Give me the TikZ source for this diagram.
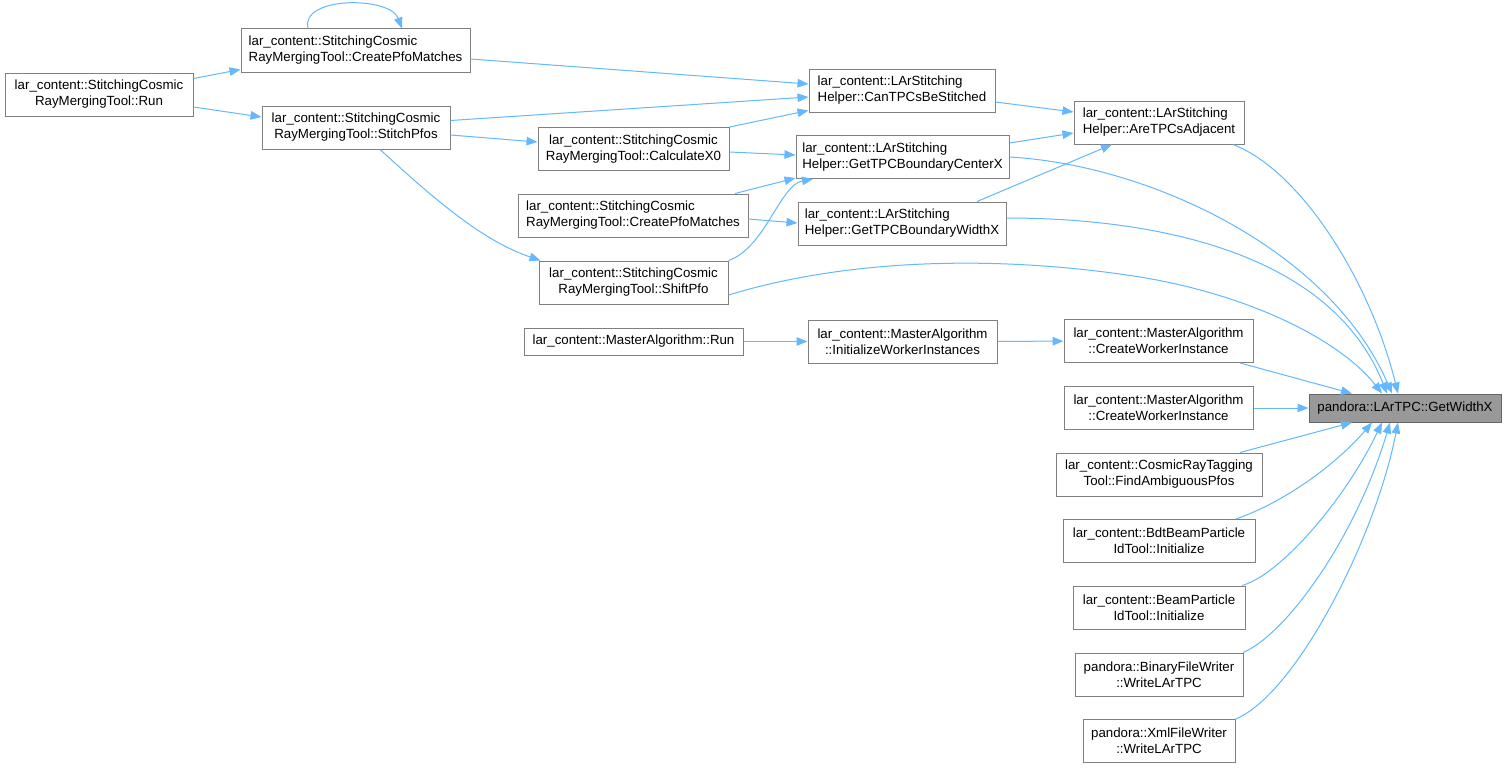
\documentclass[tikz,border=0pt]{standalone}
\usepackage{fontspec}
\setmainfont{Liberation Sans}
\usetikzlibrary{arrows.meta}
\definecolor{edgec}{HTML}{63B8FF}
\definecolor{boxc}{HTML}{808080}
\definecolor{mainfill}{HTML}{999999}
\definecolor{mainline}{HTML}{666666}
\begin{document}
\begin{tikzpicture}[x=1pt,y=-1pt,
  font=\fontsize{13.3}{16}\selectfont,
  box/.style={draw=boxc, fill=white, line width=1pt, inner sep=0pt, align=center, minimum height=43pt},
  lbox/.style={box, align=left},
  conn/.style={draw=edgec, line width=1pt, -{Triangle[length=11pt,width=8.5pt]}, edgec}]
\useasboundingbox (0,0) rectangle (1506,768);
\fill[white] (0,0) rectangle (1506,768);

% nodes
\node[box, minimum width=188pt] (run) at (99,94.5) {lar\_content::StitchingCosmic\\RayMergingTool::Run};
\node[lbox, minimum width=229pt] (cpm1) at (355.5,50.5) {lar\_content::StitchingCosmic\\RayMergingTool::CreatePfoMatches};
\node[box, minimum width=188pt] (stitch) at (356,127.5) {lar\_content::StitchingCosmic\\RayMergingTool::StitchPfos};
\node[lbox, minimum width=186pt] (can) at (902,90.5) {lar\_content::LArStitching\\Helper::CanTPCsBeStitched};
\node[box, minimum width=191pt] (calc) at (633.5,149) {lar\_content::StitchingCosmic\\RayMergingTool::CalculateX0};
\node[lbox, minimum width=213pt] (center) at (902.5,157) {lar\_content::LArStitching\\Helper::GetTPCBoundaryCenterX};
\node[lbox, minimum width=230pt] (cpm2) at (633,215.5) {lar\_content::StitchingCosmic\\RayMergingTool::CreatePfoMatches};
\node[lbox, minimum width=208pt] (width) at (902,223.5) {lar\_content::LArStitching\\Helper::GetTPCBoundaryWidthX};
\node[box, minimum width=189pt] (shift) at (633.5,282.5) {lar\_content::StitchingCosmic\\RayMergingTool::ShiftPfo};
\node[lbox, minimum width=170pt] (adj) at (1159,122.5) {lar\_content::LArStitching\\Helper::AreTPCsAdjacent};
\node[box, minimum width=219pt, minimum height=27pt] (mrun) at (633.5,341.5) {lar\_content::MasterAlgorithm::Run};
\node[box, minimum width=189pt] (init) at (902.5,341.5) {lar\_content::MasterAlgorithm\\::InitializeWorkerInstances};
\node[box, minimum width=189pt] (cwi1) at (1158.5,341) {lar\_content::MasterAlgorithm\\::CreateWorkerInstance};
\node[box, minimum width=189pt] (cwi2) at (1158.5,408) {lar\_content::MasterAlgorithm\\::CreateWorkerInstance};
\node[box, minimum width=192pt, minimum height=28pt, fill=mainfill, draw=mainline] (gwx) at (1405,408) {pandora::LArTPC::GetWidthX};
\node[box, minimum width=206pt] (find) at (1159,474.5) {lar\_content::CosmicRayTagging\\Tool::FindAmbiguousPfos};
\node[box, minimum width=192pt] (bdt) at (1159,541) {lar\_content::BdtBeamParticle\\IdTool::Initialize};
\node[box, minimum width=172pt] (beam) at (1159,607.5) {lar\_content::BeamParticle\\IdTool::Initialize};
\node[box, minimum width=168pt] (bin) at (1159,674.5) {pandora::BinaryFileWriter\\::WriteLArTPC};
\node[box, minimum width=152pt] (xml) at (1159,741) {pandora::XmlFileWriter\\::WriteLArTPC};

% connectors
\draw[conn] ([yshift=16pt]run.east) -- ([yshift=-19pt]cpm1.west);
\draw[conn] ([yshift=-12.5pt]run.east) -- ([yshift=10.5pt]stitch.west);
\draw[conn] ([xshift=-47.5pt]cpm1.north) .. controls (300,-4) and (390,-4) .. ([xshift=46.5pt]cpm1.north);
\draw[conn] ([yshift=-8.5pt]cpm1.east) -- ([yshift=6.5pt]can.west);
\draw[conn] ([yshift=7pt]stitch.east) -- ([yshift=-6.5pt]can.west);
\draw[conn] ([yshift=-7.5pt]stitch.east) -- ([yshift=7pt]calc.west);
\draw[conn] ([xshift=24pt]stitch.south) .. controls (430,195) and (480,240) .. ([xshift=2pt]shift.north west);
\draw[conn] (calc.north east) -- ([yshift=2pt]can.south west);
\draw[conn] ([yshift=-3pt]calc.east) -- ([yshift=2pt]center.west);
\draw[conn] ([xshift=102pt]cpm2.north) -- ([yshift=1pt]center.south west);
\draw[conn] ([yshift=-3.5pt]cpm2.east) -- ([yshift=0.5pt]width.west);
\draw[conn] (shift.north east) .. controls (765,248) and (780,185) .. ([xshift=-89.5pt]center.south);
\draw[conn] ([yshift=-12.5pt]shift.east) .. controls (850,258) and (1000,255) .. (1140,277) .. controls (1250,295) and (1340,340) .. ([xshift=-23pt]gwx.north);
\draw[conn] ([yshift=-11.5pt]can.east) -- ([yshift=10.5pt]adj.west);
\draw[conn] ([yshift=14pt]center.east) -- ([yshift=-10.5pt]adj.west);
\draw[conn] ([xshift=75pt]width.north) -- ([xshift=-47pt]adj.south);
\draw[conn] ([xshift=74pt]adj.south) .. controls (1300,170) and (1370,280) .. ([xshift=-7pt]gwx.north);
\draw[conn] (center.east) .. controls (1150,165) and (1330,250) .. ([xshift=-13pt]gwx.north);
\draw[conn] ([yshift=5.5pt]width.east) .. controls (1150,218) and (1330,250) .. ([xshift=-18pt]gwx.north);
\draw[conn] (mrun) -- (init);
\draw[conn] (init) -- (cwi1);
\draw[conn] ([xshift=81.5pt]cwi1.south) -- ([xshift=-53pt]gwx.north);
\draw[conn] (cwi2) -- (gwx);
\draw[conn] ([xshift=81pt]find.north) -- ([xshift=-53pt]gwx.south);
\draw[conn] ([xshift=77pt]bdt.north) .. controls (1290,500) and (1340,460) .. ([xshift=-33pt]gwx.south);
\draw[conn] ([xshift=83pt]beam.north) .. controls (1280,575) and (1345,500) .. ([xshift=-23pt]gwx.south);
\draw[conn] ([xshift=84pt]bin.north) .. controls (1285,635) and (1355,540) .. ([xshift=-15pt]gwx.south);
\draw[conn] (xml.north east) .. controls (1295,695) and (1375,540) .. ([xshift=-7pt]gwx.south);
\end{tikzpicture}
\end{document}
